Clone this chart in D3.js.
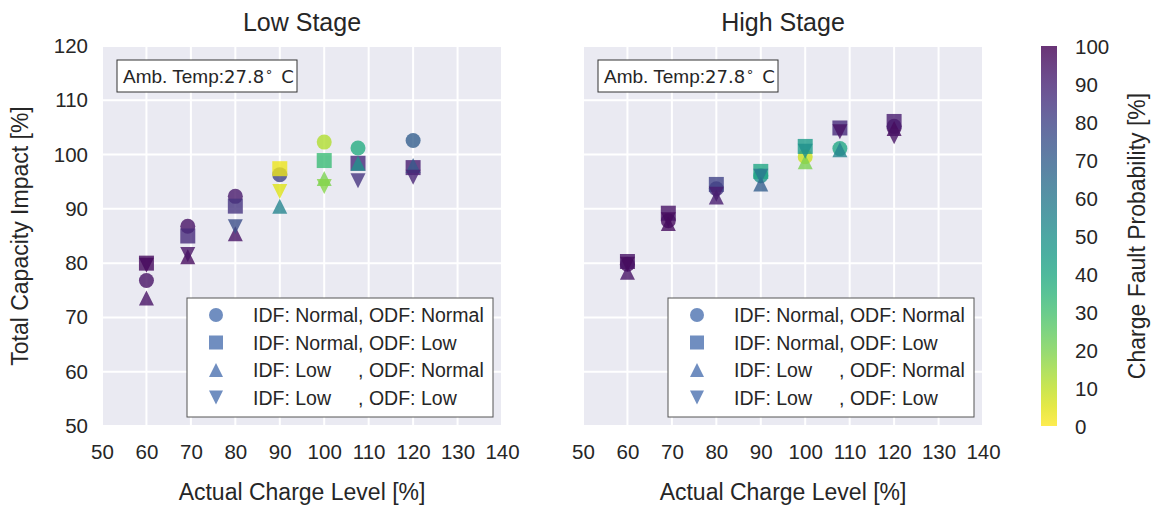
<!DOCTYPE html>
<html><head><meta charset="utf-8">
<script src="https://cdn.jsdelivr.net/npm/d3@7"></script>
<style>
body{margin:0;background:#fff;}
text{font-family:"Liberation Sans",Arial,sans-serif;fill:#262626;}
</style></head>
<body><svg id="c" width="1156" height="506"></svg>
<script>
// ---- data ----
const stageTitles = ["Low Stage", "High Stage"];
const xTicks = [50, 60, 70, 80, 90, 100, 110, 120, 130, 140];
const yTicks = [50, 60, 70, 80, 90, 100, 110, 120];
const cbTicks = [0, 10, 20, 30, 40, 50, 60, 70, 80, 90, 100];
const seriesNames = ["IDF: Normal, ODF: Normal", "IDF: Normal, ODF: Low", "IDF: Low     , ODF: Normal", "IDF: Low     , ODF: Low"];
const seriesShapes = ["circle", "square", "up", "down"];

// Low Stage
const xLow = [60, 69.3, 80, 90, 100, 107.6, 120];
const lowCircleY  = [76.8, 86.8, 92.3, 96.3, 102.3, 101.2, 102.6];
const lowCircleP  = [95, 95, 93, 80, 12, 38, 70];
const lowSquareY  = [80.0, 85.0, 90.5, 97.4, 98.9, 98.4, 97.6];
const lowSquareP  = [97, 88, 85, 3, 32, 88, 92];
const lowUpY      = [73.6, 81.2, 85.4, 90.5, 95.6, 98.4, 98.0];
const lowUpP      = [95, 97, 95, 55, 20, 50, 72];
const lowDownY    = [79.6, 81.6, 86.7, 93.2, 94.1, 95.2, 95.8];
const lowDownP    = [98, 95, 76, 5, 18, 85, 90];

// High Stage
const xHigh = [60, 69.2, 80, 90, 100, 107.8, 120];
const highCircleY = [79.8, 87.8, 93.7, 96.1, 99.6, 101.1, 105.2];
const highCircleP = [97, 97, 85, 50, 8, 40, 97];
const highSquareY = [80.3, 89.2, 94.5, 96.9, 101.5, 104.9, 106.1];
const highSquareP = [95, 95, 80, 40, 45, 88, 92];
const highUpY     = [78.3, 87.3, 92.2, 94.6, 98.7, 100.9, 104.8];
const highUpP     = [95, 97, 92, 70, 20, 55, 97];
const highDownY   = [79.8, 88.0, 92.7, 96.0, 100.6, 104.2, 103.3];
const highDownP   = [97, 97, 92, 60, 50, 95, 95];

const ambTemp = "27.8";

// ---- build ----
const FONT = '"Liberation Sans",Arial,sans-serif';
const panels = [
  {x: xLow, series: [[lowCircleY, lowCircleP], [lowSquareY, lowSquareP], [lowUpY, lowUpP], [lowDownY, lowDownP]], r: [102, 502]},
  {x: xHigh, series: [[highCircleY, highCircleP], [highSquareY, highSquareP], [highUpY, highUpP], [highDownY, highDownP]], r: [583, 983]}
];
const svg = d3.select("#c");
const y = d3.scaleLinear().domain([50, 120]).range([426, 46]);
const color = p => d3.interpolateViridis(1 - p / 100);
const S = 15;
function shapePath(shape, s) {
  const h = s / 2;
  if (shape === "circle") return `M${h},0A${h},${h} 0 1,1 ${-h},0A${h},${h} 0 1,1 ${h},0Z`;
  if (shape === "square") return `M${-h},${-h}H${h}V${h}H${-h}Z`;
  if (shape === "up") return `M0,${-h}L${h},${h}L${-h},${h}Z`;
  return `M0,${h}L${h},${-h}L${-h},${-h}Z`;
}

panels.forEach((pn, pi) => {
  const x = d3.scaleLinear().domain([50, 140]).range(pn.r);
  const g = svg.append("g");
  g.append("rect").attr("x", pn.r[0]).attr("y", y.range()[1]).attr("width", pn.r[1] - pn.r[0]).attr("height", y.range()[0] - y.range()[1]).attr("fill", "#EAEAF2");
  g.selectAll(".vg").data(xTicks).join("line").attr("x1", d => x(d)).attr("x2", d => x(d)).attr("y1", y.range()[1]).attr("y2", y.range()[0]).attr("stroke", "#fff").attr("stroke-width", 2);
  g.selectAll(".hg").data(yTicks).join("line").attr("y1", d => y(d)).attr("y2", d => y(d)).attr("x1", pn.r[0]).attr("x2", pn.r[1]).attr("stroke", "#fff").attr("stroke-width", 2);
  // x ticks
  const xa = g.append("g").attr("transform", `translate(0,${y.range()[0]})`).call(d3.axisBottom(x).tickValues(xTicks).tickSize(0).tickPadding(18));
  xa.select(".domain").remove();
  xa.selectAll("text").style("font-size", "20.5px").attr("fill", "#262626").style("font-family", FONT);
  if (pi === 0) {
    const ya = g.append("g").attr("transform", `translate(${pn.r[0]},0)`).call(d3.axisLeft(y).tickValues(yTicks).tickSize(0).tickPadding(14));
    ya.select(".domain").remove();
    ya.selectAll("text").style("font-size", "20.5px").attr("fill", "#262626").style("font-family", FONT);
    g.append("text").attr("transform", `translate(28,${(y.range()[0] + y.range()[1]) / 2}) rotate(-90)`).attr("text-anchor", "middle").style("font-size", "23px").text("Total Capacity Impact [%]");
  }
  const cx = (pn.r[0] + pn.r[1]) / 2;
  g.append("text").attr("x", cx).attr("y", 31).attr("text-anchor", "middle").style("font-size", "25px").text(stageTitles[pi]);
  g.append("text").attr("x", cx).attr("y", 500).attr("text-anchor", "middle").style("font-size", "23px").text("Actual Charge Level [%]");
  // points
  pn.series.forEach((sr, si) => {
    const data = pn.x.map((xv, i) => ({x: xv, y: sr[0][i], p: sr[1][i]}));
    g.append("g").selectAll("path").data(data).join("path")
      .attr("transform", d => `translate(${x(d.x)},${y(d.y)})`)
      .attr("d", shapePath(seriesShapes[si], S))
      .attr("fill", d => color(d.p)).attr("fill-opacity", 0.8);
  });
  // amb temp box
  const bx = pn.r[0] + 15;
  g.append("rect").attr("x", bx).attr("y", 60).attr("width", 180).attr("height", 32).attr("fill", "#fff").attr("stroke", "#333").attr("stroke-width", 1);
  const t = g.append("text").attr("x", bx + 6).attr("y", 83).style("font-size", "19px");
  t.append("tspan").text("Amb. Temp:");
  t.append("tspan").style("font-family", '"DejaVu Sans",sans-serif').style("font-size", "18px").text(ambTemp);
  t.append("tspan").style("font-family", '"DejaVu Sans",sans-serif').style("font-size", "13px").attr("dx", 1).attr("dy", -7).text("∘");
  t.append("tspan").style("font-family", '"DejaVu Sans",sans-serif').style("font-size", "18px").attr("dx", 8).attr("dy", 7).text("C");
  // legend
  const lx = pn.r[0] + 85, ly = 298;
  g.append("rect").attr("x", lx).attr("y", ly).attr("width", 306).attr("height", 119).attr("fill", "#fff").attr("stroke", "#555").attr("stroke-width", 1);
  seriesNames.forEach((nm, si) => {
    const ry = ly + 17 + si * 27.5;
    g.append("path").attr("transform", `translate(${lx + 29},${ry})`).attr("d", shapePath(seriesShapes[si], 14)).attr("fill", "#4C72B0").attr("fill-opacity", 0.8);
    g.append("text").attr("x", lx + 66).attr("y", ry + 7).style("font-size", "19.5px").style("white-space", "pre").text(nm);
  });
});

// colorbar
const cb = svg.append("g");
const grad = svg.append("defs").append("linearGradient").attr("id", "vg").attr("x1", 0).attr("x2", 0).attr("y1", 1).attr("y2", 0);
d3.range(0, 1.0001, 0.05).forEach(t => grad.append("stop").attr("offset", t).attr("stop-color", d3.interpolateViridis(1 - t)));
const cy = d3.scaleLinear().domain([0, 100]).range([426, 46]);
cb.append("rect").attr("x", 1041).attr("y", cy(100)).attr("width", 16).attr("height", cy(0) - cy(100)).attr("fill", "url(#vg)").attr("fill-opacity", 0.8);
cb.selectAll(".ct").data(cbTicks).join("text").attr("x", 1075).attr("y", d => cy(d) + 7.5).style("font-size", "20.5px").text(d => d);
cb.append("text").attr("transform", `translate(1145,${(cy(0) + cy(100)) / 2}) rotate(-90)`).attr("text-anchor", "middle").style("font-size", "23px").text("Charge Fault Probability [%]");
</script></body></html>
